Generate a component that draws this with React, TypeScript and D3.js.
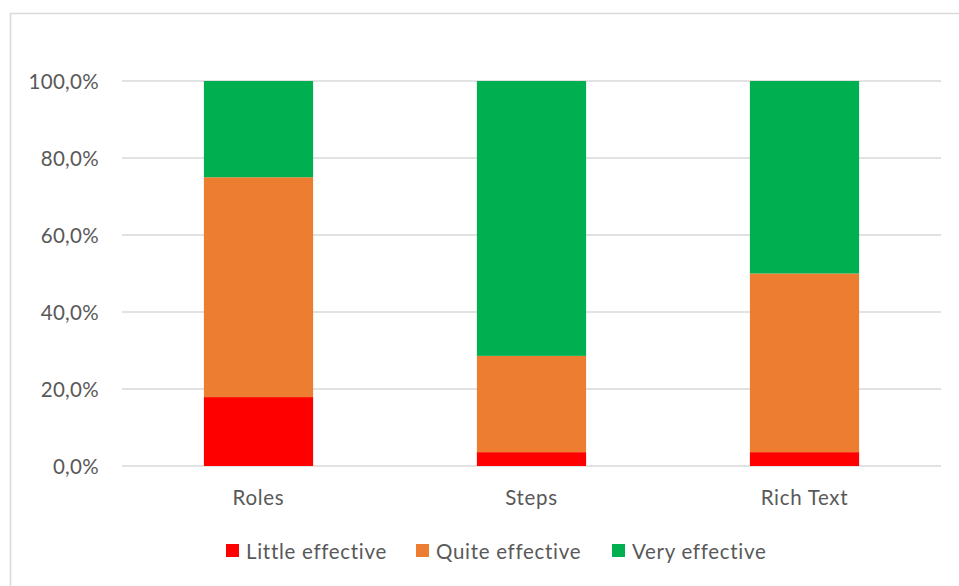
import React from "react";
import * as d3 from "d3";

const categories = ["Roles", "Steps", "Rich Text"];
const seriesNames = ["Little effective", "Quite effective", "Very effective"];
const littleEffective = [0.179, 0.036, 0.036];
const quiteEffective = [0.571, 0.25, 0.464];
const veryEffective = [0.25, 0.714, 0.5];
const yTicks = [0, 0.2, 0.4, 0.6, 0.8, 1.0];
const colors = ["#FF0000", "#ED7D31", "#00B050"];

const W = 959;
const H = 586;
const plotLeft = 122;
const plotRight = 941;
const plotTop = 81;
const plotBottom = 466;

export default function App() {
  const x = d3.scaleBand<string>().domain(categories).range([plotLeft, plotRight]).paddingInner(0.6).paddingOuter(0.3);
  const y = d3.scaleLinear().domain([0, 1]).range([plotBottom, plotTop]);

  const table = categories.map((c, i) => ({
    category: c,
    "Little effective": littleEffective[i],
    "Quite effective": quiteEffective[i],
    "Very effective": veryEffective[i],
  }));
  const stacked = d3.stack<any>().keys(seriesNames)(table);
  const fmt = (v: number) => (v * 100).toFixed(1).replace(".", ",") + "%";
  const font = "Lato, 'Open Sans', sans-serif";
  const fs = 20.5;

  const legendItems = [
    { name: seriesNames[0], x: 226 },
    { name: seriesNames[1], x: 416 },
    { name: seriesNames[2], x: 612 },
  ];

  return (
    <svg width={W} height={H} style={{ position: "absolute", left: 0, top: 0, background: "#fff" }} fontFamily={font}>
      <rect x={10.5} y={13.5} width={W} height={H} fill="#fff" stroke="#d9d9d9" strokeWidth={1.5} />
      {yTicks.map((t) => (
        <g key={t}>
          <line x1={plotLeft} x2={plotRight} y1={y(t)} y2={y(t)} stroke="#d9d9d9" strokeWidth={1.5} />
          <text x={99} y={y(t)} textAnchor="end" dominantBaseline="central" fontSize={fs} letterSpacing={0.3} fill="#595959">
            {fmt(t)}
          </text>
        </g>
      ))}
      {stacked.map((s, si) => (
        <g key={s.key}>
          {s.map((d, i) => (
            <rect
              key={i}
              x={x(categories[i])!}
              width={x.bandwidth()}
              y={y(d[1])}
              height={y(d[0]) - y(d[1])}
              fill={colors[si]}
            />
          ))}
        </g>
      ))}
      {categories.map((c) => (
        <text key={c} x={x(c)! + x.bandwidth() / 2} y={497} textAnchor="middle" dominantBaseline="central" fontSize={fs} letterSpacing={0.7} fill="#595959">
          {c}
        </text>
      ))}
      {legendItems.map((l, i) => (
        <g key={l.name}>
          <rect x={l.x} y={544} width={13} height={13} fill={colors[i]} />
          <text x={l.x + 20} y={550.5} dominantBaseline="central" fontSize={fs} letterSpacing={0.7} fill="#595959">
            {l.name}
          </text>
        </g>
      ))}
    </svg>
  );
}
